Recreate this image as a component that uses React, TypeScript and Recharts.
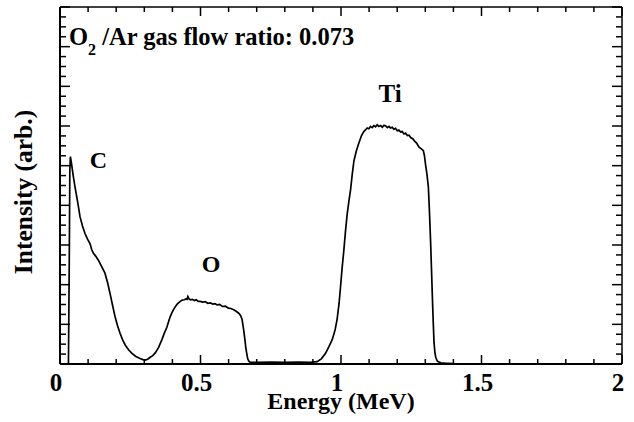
import React from 'react';
import { LineChart, Line, XAxis, YAxis } from 'recharts';

const energy = [
  0.030, 0.033, 0.035, 0.037, 0.041, 0.047, 0.053, 0.060, 0.066, 0.071, 0.080, 0.089, 0.098, 0.107, 0.113, 0.119,
  0.127, 0.137, 0.148, 0.160, 0.169, 0.178, 0.187, 0.196, 0.205, 0.214, 0.223, 0.232, 0.244, 0.256, 0.270, 0.285,
  0.295, 0.303, 0.312, 0.321, 0.330, 0.339, 0.351, 0.363, 0.372, 0.380, 0.386, 0.392, 0.398, 0.404, 0.410, 0.417,
  0.423, 0.428, 0.435, 0.442, 0.448, 0.452, 0.455, 0.459, 0.464, 0.471, 0.478, 0.485, 0.492, 0.499, 0.508, 0.517,
  0.526, 0.535, 0.544, 0.552, 0.559, 0.568, 0.578, 0.588, 0.599, 0.608, 0.618, 0.627, 0.636, 0.643, 0.648, 0.651,
  0.654, 0.656, 0.659, 0.661, 0.665, 0.668, 0.672, 0.677, 0.70, 0.75, 0.80, 0.85, 0.891, 0.915, 0.930, 0.945,
  0.957, 0.969, 0.979, 0.986, 0.993, 0.998, 1.004, 1.010, 1.016, 1.022, 1.028, 1.034, 1.040, 1.046, 1.055, 1.063,
  1.073, 1.081, 1.087, 1.093, 1.099, 1.105, 1.111, 1.117, 1.123, 1.129, 1.135, 1.141, 1.147, 1.153, 1.159, 1.165,
  1.171, 1.176, 1.182, 1.188, 1.194, 1.200, 1.206, 1.212, 1.218, 1.224, 1.230, 1.236, 1.242, 1.248, 1.255, 1.262,
  1.269, 1.277, 1.285, 1.293, 1.297, 1.301, 1.306, 1.311, 1.315, 1.319, 1.322, 1.325, 1.328, 1.331, 1.334, 1.337,
  1.343, 1.355, 1.37, 1.40,
];

const intensity = [
  0.0, 2.6, 4.9, 5.23, 5.05, 4.75, 4.48, 4.2, 3.95, 3.72, 3.48, 3.29, 3.15, 3.03, 2.88, 2.79,
  2.72, 2.61, 2.46, 2.29, 2.06, 1.78, 1.48, 1.19, 0.96, 0.77, 0.61, 0.48, 0.36, 0.27, 0.19, 0.14,
  0.11, 0.10, 0.12, 0.17, 0.21, 0.28, 0.42, 0.62, 0.79, 0.92, 1.06, 1.19, 1.29, 1.37, 1.44, 1.51,
  1.55, 1.58, 1.61, 1.62, 1.64, 1.63, 1.70, 1.64, 1.62, 1.63, 1.60, 1.62, 1.58, 1.58, 1.56, 1.57,
  1.53, 1.54, 1.51, 1.52, 1.49, 1.50, 1.45, 1.46, 1.41, 1.40, 1.37, 1.33, 1.28, 1.22, 1.12, 0.98,
  0.84, 0.73, 0.56, 0.42, 0.25, 0.13, 0.07, 0.04, 0.04, 0.05, 0.04, 0.05, 0.04, 0.06, 0.13, 0.27,
  0.44, 0.62, 0.86, 1.12, 1.52, 1.92, 2.42, 2.86, 3.35, 3.78, 4.10, 4.39, 4.78, 5.12, 5.38, 5.56,
  5.76, 5.86, 5.90, 5.95, 5.93, 5.99, 5.96, 6.01, 5.98, 6.03, 5.99, 6.01, 5.97, 6.02, 6.00, 5.96,
  5.99, 5.95, 5.97, 5.92, 5.94, 5.88, 5.90, 5.85, 5.86, 5.80, 5.82, 5.76, 5.77, 5.71, 5.68, 5.62,
  5.57, 5.47, 5.43, 5.38, 5.25, 5.02, 4.78, 4.45, 3.80, 3.05, 2.40, 1.72, 1.10, 0.55, 0.30, 0.17,
  0.07, 0.03, 0.02, 0.01,
];

const xTicks = [0, 0.1, 0.2, 0.3, 0.4, 0.5, 0.6, 0.7, 0.8, 0.9, 1, 1.1, 1.2, 1.3, 1.4, 1.5, 1.6, 1.7, 1.8, 1.9, 2];
const xMajorLabels = ['0', '0.5', '1', '1.5', '2'];
const xMajorValues = [0, 0.5, 1, 1.5, 2];
const yTicks = Array.from({ length: 37 }, (_, i) => i * 0.25);

const peakNames = ['C', 'O', 'Ti'];
const xAxisTitle = 'Energy (MeV)';
const yAxisTitle = 'Intensity (arb.)';
const ratioValue = '0.073';

const data = energy.map((e, i) => ({ e, v: intensity[i] }));

const FONT = '"Liberation Serif", "Times New Roman", serif';
const W = 634;
const H = 422;

const isMajorX = (v: number) => xMajorValues.some((m) => Math.abs(m - v) < 1e-6);
const isMajorY = (v: number) => Math.abs(v - Math.round(v)) < 1e-6;

const BottomTick = (props: any) => {
  const { x, y, payload } = props;
  const v = payload.value;
  const major = isMajorX(v);
  const idx = xMajorValues.findIndex((m) => Math.abs(m - v) < 1e-6);
  return (
    <g>
      <line x1={x} x2={x} y1={y} y2={y - (major ? 9 : 5)} stroke="#000" strokeWidth={1.5} />
      {major && (
        <text x={x - 4} y={y + 27} textAnchor="middle" fontFamily={FONT} fontWeight="bold" fontSize={25} fill="#000">
          {xMajorLabels[idx]}
        </text>
      )}
    </g>
  );
};

const TopTick = (props: any) => {
  const { x, y, payload } = props;
  const major = isMajorX(payload.value);
  return <line x1={x} x2={x} y1={y} y2={y + (major ? 9 : 5)} stroke="#000" strokeWidth={1.5} />;
};

const LeftTick = (props: any) => {
  const { x, y, payload } = props;
  const major = isMajorY(payload.value);
  return <line x1={x} x2={x + (major ? 10 : 6)} y1={y} y2={y} stroke="#000" strokeWidth={1.5} />;
};

const RightTick = (props: any) => {
  const { x, y, payload } = props;
  const major = isMajorY(payload.value);
  return <line x1={x} x2={x - (major ? 10 : 6)} y1={y} y2={y} stroke="#000" strokeWidth={1.5} />;
};

const textStyle = { fontFamily: FONT, fontWeight: 'bold' as const, fill: '#000' };

export default function App() {
  return (
    <div style={{ position: 'absolute', left: 0, top: 0, width: W, height: H, background: '#fff' }}>
      <LineChart width={W} height={H} data={data} margin={{ top: 0, right: 0, bottom: 0, left: 0 }}>
        <XAxis
          xAxisId="bottom"
          dataKey="e"
          type="number"
          domain={[0, 2]}
          allowDataOverflow
          ticks={xTicks}
          interval={0}
          height={58}
          tickSize={0}
          tickMargin={0}
          tickLine={false}
          axisLine={{ stroke: '#000', strokeWidth: 2 }}
          tick={<BottomTick />}
        />
        <XAxis
          xAxisId="top"
          orientation="top"
          dataKey="e"
          type="number"
          domain={[0, 2]}
          allowDataOverflow
          ticks={xTicks}
          interval={0}
          height={7}
          tickSize={0}
          tickMargin={0}
          tickLine={false}
          axisLine={{ stroke: '#000', strokeWidth: 1.5 }}
          tick={<TopTick />}
        />
        <YAxis
          yAxisId="left"
          type="number"
          domain={[0, 9]}
          allowDataOverflow
          ticks={yTicks}
          interval={0}
          width={60}
          tickSize={0}
          tickMargin={0}
          tickLine={false}
          axisLine={{ stroke: '#000', strokeWidth: 2 }}
          tick={<LeftTick />}
        />
        <YAxis
          yAxisId="right"
          orientation="right"
          type="number"
          domain={[0, 9]}
          allowDataOverflow
          ticks={yTicks}
          interval={0}
          width={12}
          tickSize={0}
          tickMargin={0}
          tickLine={false}
          axisLine={{ stroke: '#000', strokeWidth: 1.5 }}
          tick={<RightTick />}
        />
        <Line
          xAxisId="bottom"
          yAxisId="left"
          type="linear"
          dataKey="v"
          stroke="#000"
          strokeWidth={1.7}
          dot={false}
          activeDot={false}
          isAnimationActive={false}
        />
      </LineChart>
      <svg width={W} height={H} style={{ position: 'absolute', left: 0, top: 0, pointerEvents: 'none' }}>
        <text x={69} y={45} fontSize={24.5} {...textStyle}>
          <tspan>O</tspan>
          <tspan dy={10} fontSize={16}>2</tspan>
          <tspan dy={-10}>{` /Ar gas flow ratio: ${ratioValue}`}</tspan>
        </text>
        <text x={98.5} y={168} fontSize={24} textAnchor="middle" {...textStyle}>{peakNames[0]}</text>
        <text x={211} y={272} fontSize={24} textAnchor="middle" {...textStyle}>{peakNames[1]}</text>
        <text x={390} y={102} fontSize={25} textAnchor="middle" {...textStyle}>{peakNames[2]}</text>
        <text x={341} y={409} fontSize={24} textAnchor="middle" {...textStyle}>{xAxisTitle}</text>
        <text x={32} y={192} fontSize={25.5} textAnchor="middle" transform="rotate(-90 32 192)" {...textStyle}>
          {yAxisTitle}
        </text>
      </svg>
    </div>
  );
}
